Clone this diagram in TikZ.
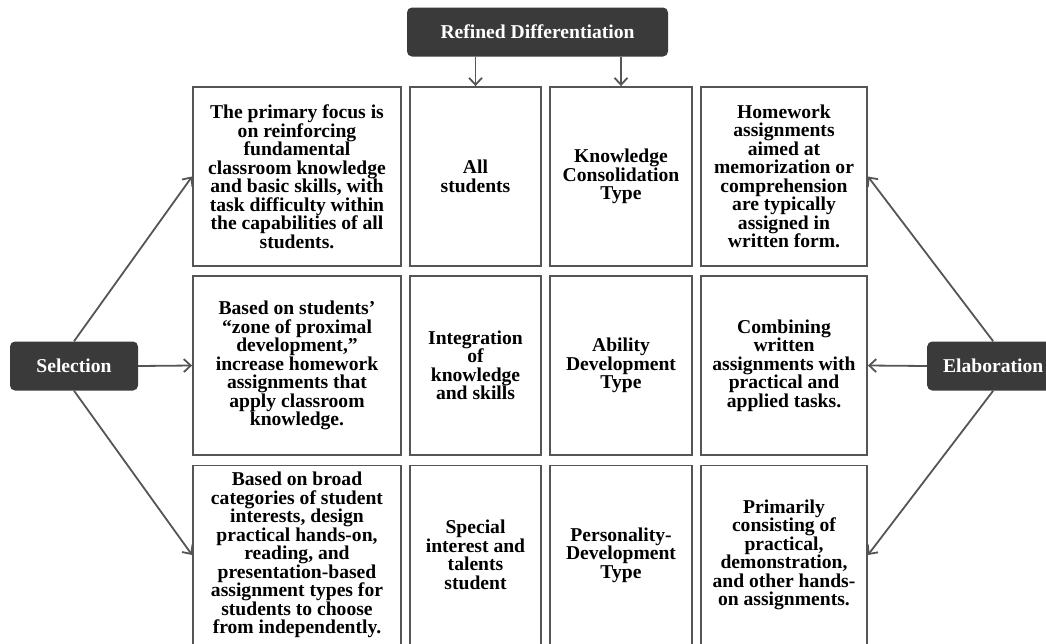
\documentclass[tikz,border=0pt]{standalone}
\usepackage{fontspec}
\setmainfont{Liberation Serif}
\usetikzlibrary{arrows.meta}
\definecolor{darkbox}{HTML}{3A3A3A}
\definecolor{edgegray}{HTML}{555555}

\begin{document}
\begin{tikzpicture}[x=1pt, y=-1pt,
    cell/.style={draw=edgegray, line width=1.8pt, minimum height=179pt, align=center, inner sep=0pt,
        font=\bfseries\fontsize{19.6}{18.5}\selectfont},
    tag/.style={fill=darkbox, rounded corners=5pt, text=white, minimum height=49pt, inner sep=0pt,
        font=\bfseries\fontsize{19.6}{19}\selectfont},
    link/.style={draw=edgegray, line width=1.8pt, -{Straight Barb[length=7pt,width=13pt]}}]
    \useasboundingbox (0,0) rectangle (1046,643);

    % Header and side labels
    \node[tag, minimum width=261pt] (refd) at (537.5, 32) {Refined Differentiation};
    \node[tag, minimum width=128pt] (sel) at (74, 366) {Selection};
    \node[tag, minimum width=132pt, anchor=west] (elab) at (927, 366) {Elaboration};

    % First row
    \node[cell, minimum width=208pt] (r1c1) at (297, 176.5) {The primary focus is\\on reinforcing\\fundamental\\classroom knowledge\\and basic skills, with\\task difficulty within\\the capabilities of all\\students.};
    \node[cell, minimum width=131pt] (r1c2) at (475.5, 176.5) {All\\students};
    \node[cell, minimum width=142pt] (r1c3) at (621, 176.5) {Knowledge\\Consolidation\\Type};
    \node[cell, minimum width=166pt] (r1c4) at (784, 176.5) {Homework\\assignments\\aimed at\\memorization or\\comprehension\\are typically\\assigned in\\written form.};

    % Second row
    \node[cell, minimum width=208pt] (r2c1) at (297, 365.5) {Based on students'\\``zone of proximal\\development,''\\increase homework\\assignments that\\apply classroom\\knowledge.};
    \node[cell, minimum width=131pt] (r2c2) at (475.5, 365.5) {Integration\\of\\knowledge\\and skills};
    \node[cell, minimum width=142pt] (r2c3) at (621, 365.5) {Ability\\Development\\Type};
    \node[cell, minimum width=166pt] (r2c4) at (784, 365.5) {Combining\\written\\assignments with\\practical and\\applied tasks.};

    % Third row (cut by the lower edge)
    \node[cell, minimum width=208pt] (r3c1) at (297, 555) {Based on broad\\categories of student\\interests, design\\practical hands-on,\\reading, and\\presentation-based\\assignment types for\\students to choose\\from independently.};
    \node[cell, minimum width=131pt] (r3c2) at (475.5, 555) {Special\\interest and\\talents\\student};
    \node[cell, minimum width=142pt] (r3c3) at (621, 555) {Personality-\\Development\\Type};
    \node[cell, minimum width=166pt] (r3c4) at (784, 555) {Primarily\\consisting of\\practical,\\demonstration,\\and other hands-\\on assignments.};

    % Arrows
    \draw[link] (r1c2.north |- refd.south) -- (r1c2.north);
    \draw[link] (r1c3.north |- refd.south) -- (r1c3.north);
    \draw[link] (sel.north) -- (r1c1.west);
    \draw[link] (sel.east) -- (r2c1.west);
    \draw[link] (sel.south) -- (r3c1.west);
    \draw[link] (elab.north) -- (r1c4.east);
    \draw[link] (elab.west) -- (r2c4.east);
    \draw[link] (elab.south) -- (r3c4.east);
\end{tikzpicture}
\end{document}
